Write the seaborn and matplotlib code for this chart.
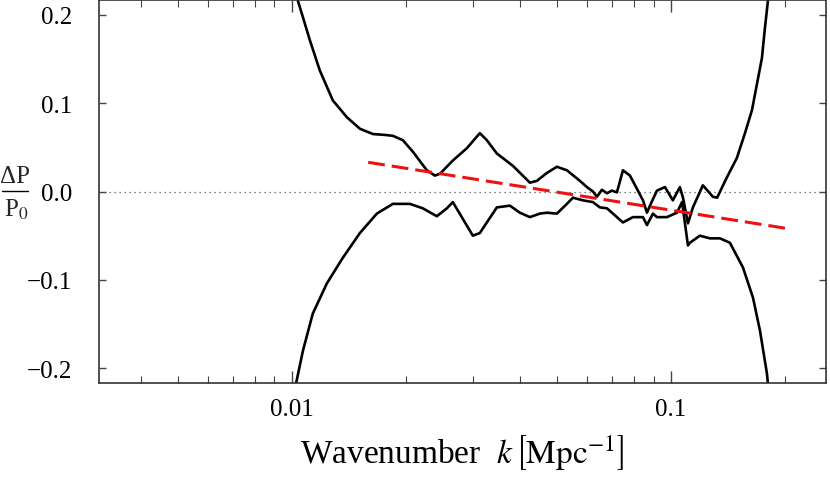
import numpy as np
import pandas as pd
import seaborn as sns
import matplotlib.pyplot as plt
from matplotlib.lines import Line2D
from matplotlib.ticker import FixedLocator, FixedFormatter, LogLocator, NullFormatter

sns.set_style('ticks')
plt.rcParams['font.family'] = ['Liberation Serif', 'DejaVu Serif']
plt.rcParams['mathtext.fontset'] = 'stix'

# верхняя огибающая
k_upper = [0.0100, 0.01037, 0.0107, 0.01116, 0.01185, 0.01283, 0.01397, 0.01512,
           0.01636, 0.01760, 0.01847, 0.01963, 0.02086, 0.02216, 0.02271, 0.02384, 0.02458,
           0.02659, 0.02896, 0.03133, 0.03269, 0.03474, 0.03830, 0.04246, 0.04430,
           0.04708, 0.05003, 0.05316, 0.05754, 0.06004, 0.06227, 0.06380, 0.06577,
           0.06780, 0.06989, 0.07204, 0.07472, 0.07797, 0.08136, 0.08438, 0.08646,
           0.08805, 0.09187, 0.09643, 0.1012, 0.1056, 0.1076, 0.1109, 0.1143,
           0.1214, 0.1291, 0.1324, 0.1405, 0.1493, 0.1568, 0.1636, 0.1687,
           0.1738, 0.1770, 0.1803, 0.1850]
dp_upper = [0.26, 0.216, 0.197, 0.171, 0.137, 0.103, 0.084, 0.071,
            0.065, 0.064, 0.063, 0.058, 0.045, 0.030, 0.024, 0.018, 0.020,
            0.035, 0.049, 0.066, 0.058, 0.043, 0.029, 0.010, 0.012,
            0.021, 0.028, 0.024, 0.012, 0.005, 0.000, -0.006, 0.002,
            -0.002, 0.001, -0.001, 0.024, 0.018, 0.003, -0.010, -0.024,
            -0.016, 0.001, 0.005, -0.010, 0.005, -0.007, -0.036, -0.018,
            0.007, -0.006, -0.007, 0.016, 0.038, 0.066, 0.092, 0.122,
            0.151, 0.185, 0.216, 0.26]

# нижняя огибающая
k_lower = [0.0100, 0.01025, 0.0107, 0.01136, 0.01237, 0.01363, 0.01512, 0.01676,
           0.01847, 0.02048, 0.02216, 0.02413, 0.02564, 0.02659, 0.02826, 0.03003,
           0.03133, 0.03269, 0.03474, 0.03761, 0.03996, 0.04246, 0.04512, 0.04708,
           0.05003, 0.05316, 0.05513, 0.05859, 0.06227, 0.06498, 0.06780, 0.07204,
           0.07472, 0.07940, 0.08438, 0.08646, 0.08967, 0.09187, 0.09759, 0.1037,
           0.1070, 0.1109, 0.1122, 0.1192, 0.1267, 0.1347, 0.1431, 0.1549,
           0.1646, 0.1717, 0.1792, 0.1803, 0.1850]
dp_lower = [-0.26, -0.218, -0.180, -0.138, -0.104, -0.075, -0.047, -0.025,
            -0.014, -0.014, -0.019, -0.028, -0.019, -0.012, -0.031, -0.050,
            -0.047, -0.035, -0.018, -0.016, -0.024, -0.029, -0.025, -0.024,
            -0.025, -0.014, -0.007, -0.010, -0.012, -0.018, -0.019, -0.029,
            -0.035, -0.029, -0.029, -0.038, -0.025, -0.029, -0.029, -0.024,
            -0.012, -0.061, -0.058, -0.050, -0.053, -0.053, -0.058, -0.086,
            -0.120, -0.157, -0.206, -0.218, -0.26]

# линейный тренд
k_fit = [0.0159, 0.2037]
dp_fit = [0.033, -0.042]

x_ticks = [0.01, 0.1]
x_labels = ['0.01', '0.1']
y_ticks = [-0.2, -0.1, 0.0, 0.1, 0.2]
y_labels = ['\u22120.2', '\u22120.1', '0.0', '0.1', '0.2']

df_up = pd.DataFrame({'k': k_upper, 'dp': dp_upper})
df_lo = pd.DataFrame({'k': k_lower, 'dp': dp_lower})
df_fit = pd.DataFrame({'k': k_fit, 'dp': dp_fit})

W, H = 830, 485
fig = plt.figure(figsize=(W / 100, H / 100), dpi=100)
ax = fig.add_axes([99 / W, 1 - 384 / H, 727 / W, 383 / H])

ax.axhline(0, color='#555555', lw=0.9, ls=(0, (1, 3)), zorder=1)
sns.lineplot(data=df_up, x='k', y='dp', sort=False, estimator=None,
             color='black', lw=1.9, ax=ax)
sns.lineplot(data=df_lo, x='k', y='dp', sort=False, estimator=None,
             color='black', lw=1.9, ax=ax)
sns.lineplot(data=df_fit, x='k', y='dp', sort=False, estimator=None,
             color='#ee1111', lw=2.2, ax=ax)
ax.lines[-1].set_dashes((5.5, 2.3))

ax.set_xscale('log')
ax.set_xlim(0.00310, 0.2565)
ax.set_ylim(-0.2166, 0.2166)

ax.xaxis.set_major_locator(FixedLocator(x_ticks))
ax.xaxis.set_major_formatter(FixedFormatter(x_labels))
ax.xaxis.set_minor_locator(LogLocator(base=10, subs=np.arange(2, 10)))
ax.xaxis.set_minor_formatter(NullFormatter())
ax.yaxis.set_major_locator(FixedLocator(y_ticks))
ax.yaxis.set_major_formatter(FixedFormatter(y_labels))

ax.tick_params(axis='both', which='both', direction='in', top=True, right=True,
               color='#444444', labelsize=18, labelcolor='black')
ax.tick_params(axis='x', which='major', length=8.5, width=1, pad=11)
ax.tick_params(axis='x', which='minor', length=5, width=0.8)
ax.tick_params(axis='y', which='major', length=5, width=1, pad=19)

for s in ax.spines.values():
    s.set_color('#333333')
    s.set_linewidth(1.2)

ax.set_xlabel(r'Wavenumber  $k\,\left[\mathrm{Mpc}^{-1}\right]$', fontsize=24,
              color='black', labelpad=9)
ax.set_ylabel('')  # seaborn ставит 'dp', дробь рисуем сами

# подпись оси Y дробью: числитель, черта, знаменатель
fig.text(15 / W, 1 - 177 / H, '\u0394P', fontsize=18, ha='center', va='center')
bar = Line2D([2 / W, 28 / W], [1 - 192 / H, 1 - 192 / H], transform=fig.transFigure,
             color='black', lw=1.0, marker='', linestyle='-')
fig.lines.append(bar)
fig.text(16 / W, 1 - 210 / H, r'P$_0$', fontsize=18, ha='center', va='center')

fig.savefig('out.png', dpi=100)
